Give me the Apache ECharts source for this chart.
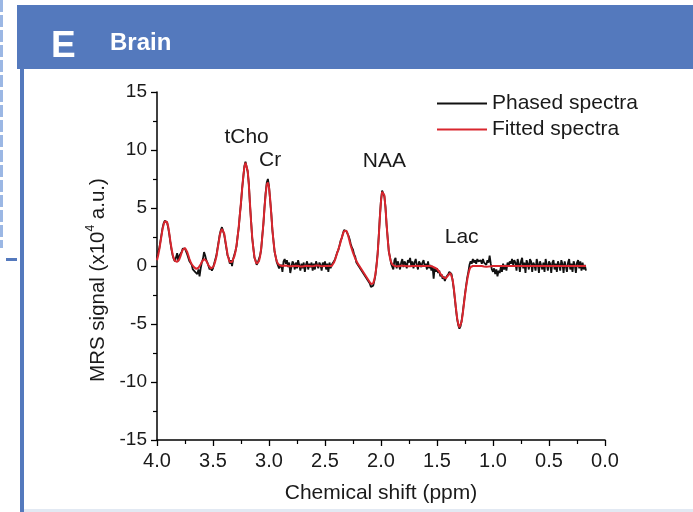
<!DOCTYPE html>
<html><head><meta charset="utf-8">
<script src="https://cdn.jsdelivr.net/npm/echarts@6/dist/echarts.min.js"></script>
<style>html,body{margin:0;padding:0;background:#fff}#c{width:693px;height:512px}</style>
</head><body><div id="c"></div>
<script>
// sampling grid: 4.00 ppm down to 0.17 ppm, 0.01 ppm step
const PPM_START = 4.00, PPM_STEP = 0.01;

const phased = [
 0.7,1.2,1.5,2.1,2.7,3.3,3.7,3.9,3.95,3.75,      // 4.00-3.91
 3.3,2.7,2.0,1.4,0.9,0.6,0.4,0.3,1.1,0.4,        // 3.90-3.81
 0.9,1.0,1.2,1.5,1.6,1.5,1.4,1.0,0.9,0.4,        // 3.80-3.71
 0.25,0.1,-0.3,-0.2,-0.5,-0.4,-0.7,-0.3,-0.9,-0.2, // 3.70-3.61
 0.3,0.6,1.2,0.9,0.5,0.3,0.0,-0.3,-0.1,-0.4,     // 3.60-3.51
 -0.2,0.2,0.3,0.9,1.5,2.1,2.7,3.1,3.35,3.2,      // 3.50-3.41
 2.7,2.1,1.5,0.9,0.7,0.2,0.5,0.0,0.6,0.7,        // 3.40-3.31
 1.3,1.7,2.6,3.3,4.5,5.4,6.7,7.6,8.6,9.0,        // 3.30-3.21
 8.9,8.1,7.1,5.3,3.9,2.4,1.6,0.7,0.5,0.1,        // 3.20-3.11
 0.3,0.3,0.9,1.4,2.6,3.6,5.1,6.3,7.2,7.5,        // 3.10-3.01
 6.9,5.7,4.6,3.1,2.2,1.2,0.8,0.3,0.3,-0.2,       // 3.00-2.91
 -0.3,0.1,-0.5,0.4,0.6,0.2,0.5,-0.1,0.3,-0.6,    // 2.90-2.81
 -0.1,0.4,0.2,-0.3,0.3,-0.2,0.5,0.1,-0.4,0.2,    // 2.80-2.71
 -0.2,0.3,-0.5,0.1,0.4,-0.3,0.2,-0.1,0.3,-0.4,   // 2.70-2.61
 0.2,-0.3,0.4,0.5,-0.2,0.3,0.1,-0.4,0.3,0.0,     // 2.60-2.51
 0.4,-0.3,0.2,-0.5,0.3,-0.2,0.1,0.2,0.4,0.6,     // 2.50-2.41
 0.9,1.2,1.4,1.8,2.2,2.4,2.8,3.1,3.2,3.0,        // 2.40-2.31
 2.9,2.6,2.3,1.9,1.6,1.4,1.0,0.8,0.3,0.4,        // 2.30-2.21
 0.0,0.1,-0.3,-0.2,-0.6,-0.5,-0.9,-0.8,-1.2,-1.1, // 2.20-2.11
 -1.5,-1.8,-1.9,-1.7,-1.3,-0.8,0.1,1.1,2.6,4.3,  // 2.10-2.01
 5.7,6.5,6.65,6.0,5.1,3.5,2.4,1.2,0.8,0.2,       // 2.00-1.91
 0.3,-0.3,0.5,0.7,-0.2,0.4,0.1,-0.3,0.3,0.6,     // 1.90-1.81
 -0.1,0.4,0.2,-0.2,0.5,0.3,0.7,0.0,0.4,-0.2,     // 1.80-1.71
 0.3,0.6,0.1,-0.3,0.4,0.2,-0.1,0.3,0.5,0.0,      // 1.70-1.61
 0.2,-0.3,0.4,-0.2,0.1,-0.4,0.0,-1.1,-0.1,-0.5,  // 1.60-1.51
 -0.2,-0.6,-0.4,-0.9,-0.7,-1.1,-0.9,-1.3,-1.0,-1.1, // 1.50-1.41
 -0.7,-0.5,-0.6,-0.7,-1.3,-2.0,-2.9,-3.8,-4.6,-5.1, // 1.40-1.31
 -5.4,-5.2,-4.7,-4.0,-3.2,-2.4,-1.7,-1.0,-0.5,0.1,  // 1.30-1.21
 0.4,0.2,0.6,0.3,0.5,0.2,0.6,0.4,0.3,0.5,        // 1.20-1.11
 0.2,0.6,0.3,0.4,0.1,0.5,0.3,0.9,0.2,-0.3,       // 1.10-1.01
 -0.5,-0.2,-0.7,-0.3,-0.9,-0.4,-0.6,-0.1,-0.5,0.2, // 1.00-0.91
 -0.3,0.1,-0.4,0.3,0.0,0.4,0.2,0.6,0.1,0.5,      // 0.90-0.81
 0.3,-0.4,0.6,0.2,-0.5,0.4,0.7,-0.2,0.3,-0.6,    // 0.80-0.71
 0.5,0.2,-0.3,0.6,0.4,-0.5,0.3,0.1,-0.4,0.6,     // 0.70-0.61
 0.2,-0.6,0.4,0.5,-0.3,0.3,-0.5,0.6,0.1,-0.4,    // 0.60-0.51
 0.4,0.2,-0.6,0.3,0.5,-0.3,0.2,-0.5,0.4,0.1,     // 0.50-0.41
 -0.4,0.5,0.2,-0.6,0.4,0.0,-0.5,0.3,0.6,-0.3,    // 0.40-0.31
 0.2,-0.5,0.4,0.1,-0.6,0.3,0.5,-0.2,0.4,-0.4,    // 0.30-0.21
 0.3,-0.3,0.1,-0.4                               // 0.20-0.17
];

const fitted = [
 0.5,0.9,1.4,2.0,2.6,3.2,3.6,3.85,3.9,3.8,       // 4.00-3.91
 3.4,2.8,2.1,1.5,1.0,0.65,0.45,0.35,0.35,0.45,   // 3.90-3.81
 0.6,0.85,1.15,1.4,1.55,1.55,1.45,1.2,0.9,0.6,   // 3.80-3.71
 0.35,0.15,0.0,-0.1,-0.2,-0.25,-0.25,-0.15,0.0,0.15, // 3.70-3.61
 0.35,0.5,0.6,0.6,0.45,0.25,0.05,-0.1,-0.2,-0.2, // 3.60-3.51
 -0.1,0.1,0.4,0.8,1.4,2.0,2.6,3.0,3.2,3.15,      // 3.50-3.41
 2.8,2.2,1.6,1.0,0.6,0.35,0.3,0.35,0.5,0.8,      // 3.40-3.31
 1.2,1.8,2.5,3.4,4.4,5.5,6.6,7.7,8.5,8.9,        // 3.30-3.21
 8.8,8.2,7.0,5.4,3.8,2.5,1.5,0.8,0.4,0.2,        // 3.20-3.11
 0.2,0.4,0.8,1.5,2.5,3.7,5.0,6.2,7.0,7.2,        // 3.10-3.01
 6.8,5.8,4.5,3.2,2.1,1.3,0.75,0.4,0.2,0.1,       // 3.00-2.91
 0.05,0.0,0.0,0.02,0.05,0.05,0.03,0.0,-0.02,-0.03, // 2.90-2.81
 -0.03,-0.02,0.0,0.02,0.03,0.02,0.0,-0.02,-0.04,-0.05, // 2.80-2.71
 -0.05,-0.03,0.0,0.02,0.03,0.02,0.0,-0.02,-0.03,-0.02, // 2.70-2.61
 0.0,0.02,0.04,0.05,0.04,0.02,0.0,-0.02,-0.03,-0.02, // 2.60-2.51
 0.0,0.0,0.0,0.0,0.0,0.0,0.0,0.1,0.3,0.55,       // 2.50-2.41
 0.85,1.15,1.45,1.75,2.1,2.45,2.75,3.0,3.1,3.05, // 2.40-2.31
 2.85,2.5,2.1,1.75,1.45,1.15,0.9,0.65,0.45,0.25, // 2.30-2.21
 0.1,-0.05,-0.2,-0.35,-0.5,-0.65,-0.8,-0.95,-1.1,-1.25, // 2.20-2.11
 -1.4,-1.55,-1.6,-1.5,-1.2,-0.7,0.0,1.0,2.5,4.2, // 2.10-2.01
 5.6,6.4,6.55,6.1,5.0,3.6,2.3,1.3,0.7,0.35,      // 2.00-1.91
 0.15,0.05,0.0,-0.02,-0.03,-0.03,-0.02,0.0,0.02,0.03, // 1.90-1.81
 0.03,0.02,0.0,-0.02,-0.03,-0.03,-0.02,0.0,0.0,0.0, // 1.80-1.71
 0.0,0.01,0.02,0.02,0.01,0.0,-0.01,-0.02,-0.01,0.0, // 1.70-1.61
 0.0,0.0,0.0,0.0,0.0,-0.02,-0.05,-0.1,-0.15,-0.2, // 1.60-1.51
 -0.25,-0.35,-0.5,-0.65,-0.8,-0.9,-1.0,-1.05,-1.05,-0.95, // 1.50-1.41
 -0.8,-0.65,-0.6,-0.75,-1.2,-1.9,-2.8,-3.7,-4.5,-5.0, // 1.40-1.31
 -5.3,-5.25,-4.8,-4.1,-3.3,-2.5,-1.8,-1.2,-0.7,-0.3, // 1.30-1.21
 -0.1,0.0,0.0,0.0,0.0,0.0,0.0,0.0,0.0,0.0,       // 1.20-1.11
 0.0,-0.02,-0.04,-0.05,-0.06,-0.06,-0.05,-0.04,-0.03,-0.02, // 1.10-1.01
 0.0,0.0,0.0,0.0,0.0,0.0,0.0,0.0,0.0,0.0,        // 1.00-0.91
 0.0,0.0,0.0,0.0,0.0,0.0,0.0,0.0,0.0,0.0,        // 0.90-0.81
 0.0,0.0,0.0,0.0,0.0,0.0,0.0,0.0,0.0,0.0,        // 0.80-0.71
 0.0,0.0,0.0,0.0,0.0,0.0,0.0,0.0,0.0,0.0,        // 0.70-0.61
 0.0,0.0,0.0,0.0,0.0,0.0,0.0,0.0,0.0,0.0,        // 0.60-0.51
 0.0,0.0,0.0,0.0,0.0,0.0,0.0,0.0,0.0,0.0,        // 0.50-0.41
 0.0,0.0,0.0,0.0,0.0,0.0,0.0,0.0,0.0,0.0,        // 0.40-0.31
 0.0,0.0,0.0,0.0,0.0,0.0,0.0,0.0,0.0,0.0,        // 0.30-0.21
 0.0,0.0,0.0,0.0                                 // 0.20-0.17
];

const seriesNames = ['Phased spectra', 'Fitted spectra'];
const peakNames = ['tCho', 'Cr', 'NAA', 'Lac'];
const peakLabelAt = [[3.20, 11.1], [2.99, 9.1], [1.97, 9.05], [1.28, 2.5]]; // [ppm, signal]
const xRange = [0, 4], xStep = 0.5;
const yRange = [-15, 15], yStep = 5;

const FONT = '"Liberation Sans", Arial, sans-serif';
const BLUE = '#5479bd';
const TXT = '#1a1a1a';
const BLACK_LINE = '#111', RED_LINE = '#d9262e';

const ppmAt = i => +(PPM_START - i * PPM_STEP).toFixed(2);
const toPairs = arr => arr.map((v, i) => [ppmAt(i), v]);

const chart = echarts.init(document.getElementById('c'), null, {renderer: 'canvas'});
chart.setOption({
  animation: false,
  backgroundColor: '#fff',
  textStyle: {fontFamily: FONT},
  graphic: [
    {type: 'rect', z: -10, shape: {x: 17, y: 5, width: 676, height: 64}, style: {fill: BLUE}},
    {type: 'rect', z: -10, shape: {x: 20, y: 69, width: 4, height: 443}, style: {fill: BLUE}},
    {type: 'rect', z: -10, shape: {x: 24, y: 509, width: 669, height: 3}, style: {fill: '#e2e9f3'}},
    {type: 'line', z: -10, shape: {x1: 1.5, y1: 0, x2: 1.5, y2: 248}, style: {stroke: '#9bb7e4', lineWidth: 3, lineDash: [12, 3]}},
    {type: 'rect', z: -10, shape: {x: 6, y: 258, width: 11, height: 3}, style: {fill: BLUE}},
    {type: 'text', left: 51, top: 28, style: {text: 'E', fill: '#fff', font: 'bold 37px ' + FONT}},
    {type: 'text', left: 110, top: 31, style: {text: 'Brain', fill: '#fff', font: 'bold 24px ' + FONT}}
  ],
  grid: {left: 157, right: 88, top: 92, bottom: 72, containLabel: false},
  legend: {
    data: seriesNames.map(n => ({name: n, icon: 'rect'})),
    orient: 'vertical', left: 432, top: 88,
    itemWidth: 50, itemHeight: 2, itemGap: 5,
    textStyle: {fontFamily: FONT, fontSize: 21, color: TXT, lineHeight: 21, padding: [0, 0, 0, 0]}
  },
  xAxis: {
    type: 'value', inverse: true, min: xRange[0], max: xRange[1], interval: xStep,
    name: 'Chemical shift (ppm)', nameLocation: 'middle', nameGap: 43,
    nameTextStyle: {fontFamily: FONT, fontSize: 21, color: TXT},
    axisLine: {onZero: false, lineStyle: {color: '#000', width: 1.5}},
    axisTick: {show: true, inside: false, length: 6, lineStyle: {color: '#000', width: 1.3}},
    minorTick: {show: true, splitNumber: 2, length: 4, lineStyle: {color: '#000', width: 1.2}},
    axisLabel: {fontFamily: FONT, fontSize: 20, color: TXT, margin: 11, formatter: v => v.toFixed(1)},
    splitLine: {show: false}
  },
  yAxis: {
    type: 'value', min: yRange[0], max: yRange[1], interval: yStep,
    name: '{a|MRS signal (x10}{s|4}{a| a.u.)}', nameLocation: 'middle', nameGap: 47, nameRotate: 90,
    nameTextStyle: {fontFamily: FONT, color: TXT, padding: [0, 28, 0, 0], rich: {
      a: {fontFamily: FONT, fontSize: 20.5, color: TXT, lineHeight: 24, verticalAlign: 'bottom'},
      s: {fontFamily: FONT, fontSize: 12, color: TXT, lineHeight: 24, verticalAlign: 'top', padding: [0, 0, 10, 0]}
    }},
    axisLine: {show: true, onZero: false, lineStyle: {color: '#000', width: 1.5}},
    axisTick: {show: true, inside: false, length: 6, lineStyle: {color: '#000', width: 1.3}},
    minorTick: {show: true, splitNumber: 2, length: 4, lineStyle: {color: '#000', width: 1.2}},
    axisLabel: {fontFamily: FONT, fontSize: 19, color: TXT, margin: 10},
    splitLine: {show: false}
  },
  series: [
    {
      name: seriesNames[0], type: 'line', data: toPairs(phased), symbol: 'none',
      lineStyle: {color: BLACK_LINE, width: 1.8}, itemStyle: {color: BLACK_LINE}, z: 2
    },
    {
      name: seriesNames[1], type: 'line', data: toPairs(fitted), symbol: 'none',
      lineStyle: {color: RED_LINE, width: 2}, itemStyle: {color: RED_LINE}, z: 3,
      markPoint: {
        symbol: 'rect', symbolSize: 1, itemStyle: {color: 'rgba(0,0,0,0)'},
        label: {show: true, position: 'inside', formatter: '{b}', fontFamily: FONT, fontSize: 21, color: TXT},
        data: peakNames.map((n, i) => ({name: n, coord: peakLabelAt[i]}))
      }
    }
  ]
});
</script>
</body></html>
